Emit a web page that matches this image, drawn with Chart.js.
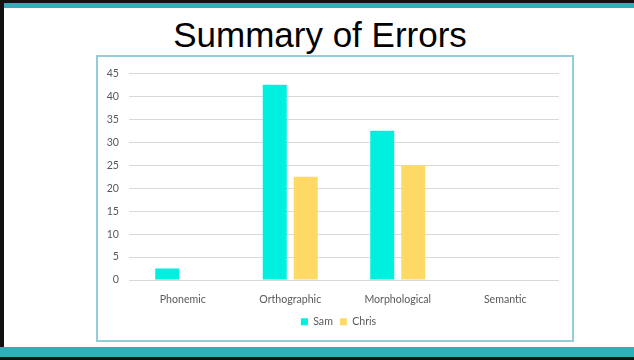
<!DOCTYPE html>
<html>
<head>
<meta charset="utf-8">
<script src="https://cdn.jsdelivr.net/npm/chart.js@4"></script>
<style>
  html, body { margin: 0; padding: 0; background: #fff; }
  #slide { position: relative; width: 634px; height: 360px; overflow: hidden; background: #fff; }
  #topDark { position: absolute; left: 0; top: 0; width: 634px; height: 3px; background: #111; }
  #topBar { position: absolute; left: 0; top: 3px; width: 634px; height: 5px; background: #2fb0b8; }
  #leftEdge { position: absolute; left: 0; top: 0; width: 4px; height: 347px; background: #111; }
  #bottomBar { position: absolute; left: 0; top: 347px; width: 634px; height: 10px; background: #2fb0b8; }
  #bottomDark { position: absolute; left: 0; top: 357px; width: 634px; height: 3px; background: #111; }
  #title { position: absolute; left: 0; width: 640px; top: 13px; text-align: center;
           font-family: "Liberation Sans", Arial, sans-serif; font-size: 35px; line-height: 44px; color: #000; }
  #box { position: absolute; left: 96px; top: 55px; width: 474px; height: 283px;
         border: 2px solid #93cddb; }
  #box canvas { position: absolute; left: 0; top: 0; }
</style>
</head>
<body>
<div id="slide">
  <div id="topDark"></div>
  <div id="topBar"></div>
  <div id="leftEdge"></div>
  <div id="bottomBar"></div>
  <div id="bottomDark"></div>
  <div id="title">Summary of Errors</div>
  <div id="box"><canvas id="errors-chart" width="474" height="283"></canvas></div>
</div>
<script>
// error categories and counts
const categories = ['Phonemic', 'Orthographic', 'Morphological', 'Semantic'];
const samErrors = [2.5, 42.5, 32.5, 0];
const chrisErrors = [0, 22.5, 25, 0];
const yTicks = [0, 5, 10, 15, 20, 25, 30, 35, 40, 45];

const labelFont = { family: 'Lato, "Open Sans", sans-serif', size: 10.6 };

// nudge the legend so it sits centred on the box rather than the plot
const legendShift = {
  id: 'legendShift',
  afterLayout(chart) {
    chart.legend.left += 10;
    chart.legend.right += 10;
  }
};

const ctx = document.getElementById('errors-chart').getContext('2d');

new Chart(ctx, {
  type: 'bar',
  data: {
    labels: categories,
    datasets: [
      { label: 'Sam', data: samErrors, backgroundColor: '#00f0e0',
        categoryPercentage: 0.577, barPercentage: 0.774 },
      { label: 'Chris', data: chrisErrors, backgroundColor: '#ffd966',
        categoryPercentage: 0.577, barPercentage: 0.774 }
    ]
  },
  options: {
    responsive: false,
    animation: false,
    // top gets another ~6px from the half height of the "45" label
    layout: { padding: { left: 0, right: 13, top: 6.6, bottom: 3 } },
    scales: {
      x: {
        grid: { display: false },
        border: { display: false },
        ticks: { color: '#595959', font: labelFont, padding: 5, maxRotation: 0 },
        afterFit(scale) { scale.height = 29.4; }
      },
      y: {
        min: 0,
        max: 45,
        afterBuildTicks(scale) { scale.ticks = yTicks.map(v => ({ value: v })); },
        grid: { color: '#d9d9d9', lineWidth: 1, drawTicks: false },
        border: { display: false },
        ticks: { color: '#595959', font: labelFont, padding: 10 },
        afterFit(scale) { scale.width = 31; }
      }
    },
    plugins: {
      legend: {
        position: 'bottom',
        labels: { color: '#595959', font: labelFont, boxWidth: 7, boxHeight: 7, padding: 7 }
      },
      tooltip: { enabled: false }
    }
  },
  plugins: [legendShift]
});
</script>
</body>
</html>
